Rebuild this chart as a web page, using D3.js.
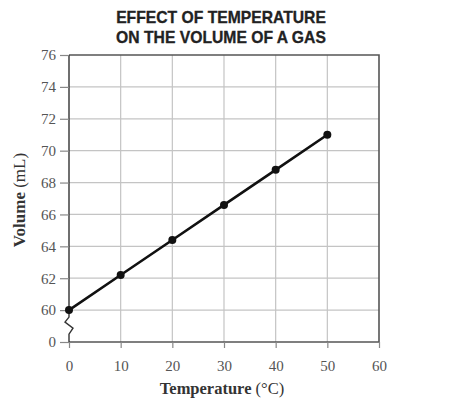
<!DOCTYPE html>
<html>
<head>
<meta charset="utf-8">
<script src="https://cdn.jsdelivr.net/npm/d3@7"></script>
<style>
  body { margin: 0; background: #fff; }
  svg { display: block; }
</style>
</head>
<body>
<div id="chart"></div>
<script>
// data
var temps = [0, 10, 20, 30, 40, 50];
var volumes = [60, 62.2, 64.4, 66.6, 68.8, 71.0];
var xTicks = [0, 10, 20, 30, 40, 50, 60];
// 58 stands in for the broken "0" row at the bottom
var yTicks = [58, 60, 62, 64, 66, 68, 70, 72, 74, 76];
var yTickLabels = ["0", "60", "62", "64", "66", "68", "70", "72", "74", "76"];

var W = 468, H = 403;
// (window.top is read-only, so no plain "top" here)
var plotL = 69, plotR = 379, plotT = 55, plotB = 342;

var svg = d3.select("#chart").append("svg")
  .attr("width", W)
  .attr("height", H);

var x = d3.scaleLinear().domain([0, 60]).range([plotL, plotR]);
var y = d3.scaleLinear().domain([58, 76]).range([plotB, plotT]);

// grid
svg.append("g").selectAll("line")
  .data(yTicks.slice(1, -1))
  .enter().append("line")
  .attr("x1", plotL).attr("x2", plotR)
  .attr("y1", function(d) { return y(d); })
  .attr("y2", function(d) { return y(d); })
  .style("stroke", "#c4c4c4")
  .style("stroke-width", 1.2);

svg.append("g").selectAll("line")
  .data(xTicks.slice(1, -1))
  .enter().append("line")
  .attr("y1", plotT).attr("y2", plotB)
  .attr("x1", function(d) { return x(d); })
  .attr("x2", function(d) { return x(d); })
  .style("stroke", "#c4c4c4")
  .style("stroke-width", 1.2);

// frame: top, right, bottom
svg.append("path")
  .attr("d", "M" + plotL + "," + plotT + "H" + plotR + "V" + plotB + "H" + plotL)
  .style("fill", "none")
  .style("stroke", "#555")
  .style("stroke-width", 1.6);

// left side with the break between 0 and 60
var y60 = y(60);
svg.append("path")
  .attr("d", "M" + plotL + "," + plotT + "V" + (y60 + 7) +
    "L" + (plotL - 4) + "," + (y60 + 12) +
    "L" + (plotL + 4) + "," + (y60 + 18) +
    "L" + plotL + "," + (y60 + 24) +
    "V" + plotB)
  .style("fill", "none")
  .style("stroke", "#333")
  .style("stroke-width", 1.4);

// y axis ticks
var yAxis = d3.axisLeft(y)
  .tickValues(yTicks)
  .tickSize(9)
  .tickPadding(4)
  .tickFormat(function(d, i) { return yTickLabels[i]; });

var gy = svg.append("g")
  .attr("transform", "translate(" + plotL + ",0)")
  .call(yAxis);
gy.select(".domain").remove();
gy.selectAll("line").style("stroke", "#888").style("stroke-width", 1.2);
gy.selectAll("text")
  .style("font-family", "'Liberation Serif', 'Times New Roman', serif")
  .style("font-size", "15px")
  .style("fill", "#555");

// x axis ticks
var xAxis = d3.axisBottom(x)
  .tickValues(xTicks)
  .tickSize(6)
  .tickPadding(12);

var gx = svg.append("g")
  .attr("transform", "translate(0," + plotB + ")")
  .call(xAxis);
gx.select(".domain").remove();
gx.selectAll("line").style("stroke", "#888").style("stroke-width", 1.2);
gx.selectAll("text")
  .style("font-family", "'Liberation Serif', 'Times New Roman', serif")
  .style("font-size", "15px")
  .style("fill", "#555");

// line + points
var line = d3.line()
  .x(function(d, i) { return x(temps[i]); })
  .y(function(d) { return y(d); });

svg.append("path")
  .datum(volumes)
  .attr("d", line)
  .style("fill", "none")
  .style("stroke", "#111")
  .style("stroke-width", 2.6);

svg.append("g").selectAll("circle")
  .data(volumes)
  .enter().append("circle")
  .attr("cx", function(d, i) { return x(temps[i]); })
  .attr("cy", function(d) { return y(d); })
  .attr("r", 4)
  .style("fill", "#111");

// title
var title = svg.append("text")
  .attr("text-anchor", "middle")
  .style("font-family", "'Liberation Sans', Arial, sans-serif")
  .style("font-weight", "bold")
  .style("font-size", "15.7px")
  .style("fill", "#222")
  .style("stroke", "#222")
  .style("stroke-width", 0.3);
title.append("tspan").attr("x", 221).attr("y", 23).text("EFFECT OF TEMPERATURE");
title.append("tspan").attr("x", 221).attr("y", 43).text("ON THE VOLUME OF A GAS");

// axis titles
var xt = svg.append("text")
  .attr("x", 222).attr("y", 394)
  .attr("text-anchor", "middle")
  .style("font-family", "'Liberation Serif', 'Times New Roman', serif")
  .style("font-size", "16.5px")
  .style("fill", "#333");
xt.append("tspan").style("font-weight", "bold").text("Temperature ");
xt.append("tspan").text("(°C)");

var yt = svg.append("text")
  .attr("transform", "translate(25,200) rotate(-90)")
  .attr("text-anchor", "middle")
  .style("font-family", "'Liberation Serif', 'Times New Roman', serif")
  .style("font-size", "17px")
  .style("fill", "#333");
yt.append("tspan").style("font-weight", "bold").text("Volume ");
yt.append("tspan").text("(mL)");
</script>
</body>
</html>
